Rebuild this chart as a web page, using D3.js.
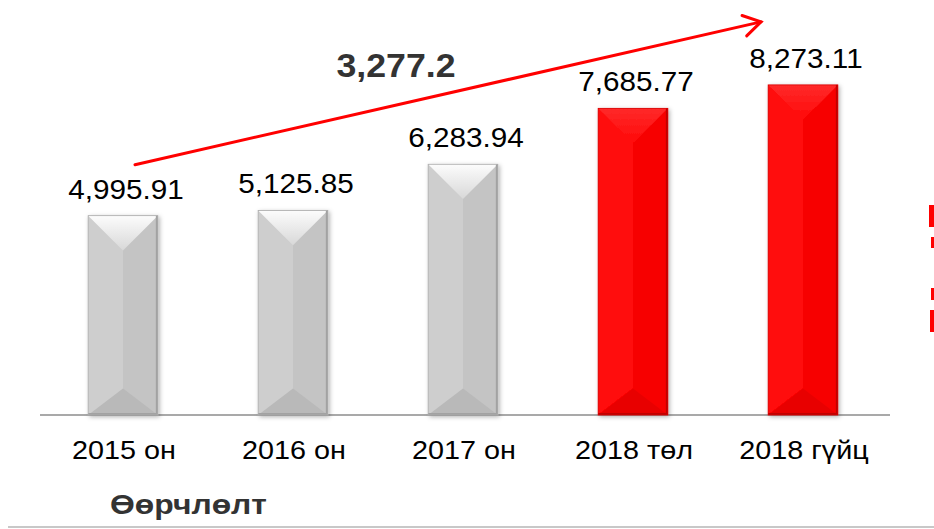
<!DOCTYPE html>
<html lang="mn">
<meta charset="utf-8">
<head>
  <title>Өөрчлөлт</title>
  <style>
  body { margin: 0; background: #fff; }
  svg { display: block; font-family: "Liberation Sans", Arial, sans-serif; }
  .value-label { font-size: 27px; fill: #000; }
  .cat-label { font-size: 25px; fill: #000; }
  .change-label { font-size: 34px; font-weight: bold; fill: #333; }
  .footer-label { font-size: 27px; font-weight: bold; fill: #333; }
  .baseline { stroke: #8c8c8c; stroke-width: 1.5px; }
  .arrow { fill: none; stroke: #ff0000; stroke-width: 3px; stroke-linecap: round; }
  </style>
</head>
<body>
<svg id="chart" width="934" height="529"></svg>
<script src="https://cdn.jsdelivr.net/npm/d3@7"></script>
<script>

// data
var categories = ["2015 он", "2016 он", "2017 он", "2018 төл", "2018 гүйц"];
var values = [4995.91, 5125.85, 6283.94, 7685.77, 8273.11];
var highlighted = [false, false, false, true, true];
var footerText = "Өөрчлөлт";

var svg = d3.select("svg#chart");

var xScale = d3.scaleBand()
    .domain(categories)
    .range([38, 888])
    .paddingInner(0.59)
    .paddingOuter(0.295);

var yScale = d3.scaleLinear()
    .domain([0, 10000])
    .range([415, 16]);

var fmt = d3.format(",.2f");
var bw = xScale.bandwidth();

var defs = svg.append("defs");

// soft shadow round each bar
var shadow = defs.append("filter").attr("id", "barShadow")
    .attr("x", "-20%").attr("y", "-10%").attr("width", "140%").attr("height", "120%");
shadow.append("feDropShadow")
    .attr("dx", 1.5).attr("dy", 1.5).attr("stdDeviation", 2)
    .attr("flood-color", "#000").attr("flood-opacity", 0.3);

function vGrad(id, c1, c2) {
  var g = defs.append("linearGradient").attr("id", id)
      .attr("x1", 0).attr("y1", 0).attr("x2", 0).attr("y2", 1);
  g.append("stop").attr("offset", "0%").attr("stop-color", c1);
  g.append("stop").attr("offset", "100%").attr("stop-color", c2);
}
vGrad("grayTop", "#fcfcfc", "#d8d8d8");
vGrad("redTop", "#ff2a2a", "#ff0808");

var palette = {
  gray: {left: "#cecece", right: "#c4c4c4", top: "url(#grayTop)", bottom: "#b9b9b9", edge: "#a2a2a2"},
  red:  {left: "#ff0707", right: "#f70000", top: "url(#redTop)", bottom: "#e80000", edge: "#c00000"}
};

// baseline
svg.append("line")
    .attr("class", "baseline")
    .attr("x1", 40).attr("x2", 890)
    .attr("y1", yScale(0)).attr("y2", yScale(0));

var bar = svg.selectAll(".bar")
  .data(values)
  .enter().append("g")
    .attr("class", "bar")
    .attr("filter", "url(#barShadow)");

function pts(arr) { return arr.map(function(p) { return p.join(","); }).join(" "); }

bar.each(function(v, i) {
  var c = highlighted[i] ? palette.red : palette.gray;
  var x0 = xScale(categories[i]), x1 = x0 + bw, cx = x0 + bw / 2;
  var y0 = yScale(v), y1 = yScale(0);
  var topD = bw / 2, botD = bw * 0.38;
  var g = d3.select(this);

  g.append("rect").attr("x", x0).attr("y", y0).attr("width", bw / 2).attr("height", y1 - y0).attr("fill", c.left);
  g.append("rect").attr("x", cx).attr("y", y0).attr("width", bw / 2).attr("height", y1 - y0).attr("fill", c.right);
  g.append("polygon").attr("points", pts([[x0, y0], [x1, y0], [cx, y0 + topD]])).attr("fill", c.top);
  g.append("polygon").attr("points", pts([[x0, y1], [x1, y1], [cx, y1 - botD]])).attr("fill", c.bottom);
  // dark rim on the right and bottom
  g.append("rect").attr("x", x1 - 2).attr("y", y0).attr("width", 2).attr("height", y1 - y0).attr("fill", c.edge);
  g.append("rect").attr("x", x0).attr("y", y1 - 2).attr("width", bw).attr("height", 2).attr("fill", c.edge);
  g.append("rect").attr("x", x0).attr("y", y0).attr("width", bw).attr("height", y1 - y0)
      .attr("fill", "none").attr("stroke", highlighted[i] ? "#d80000" : "#acacac").attr("stroke-width", 0.8);
});

// stretch text a bit wider, like the slide
function stretch(sel, k) {
  sel.each(function() {
    var len = this.getComputedTextLength();
    d3.select(this).attr("textLength", len * k).attr("lengthAdjust", "spacingAndGlyphs");
  });
}

svg.selectAll(".value-label")
  .data(values)
  .enter().append("text")
    .attr("class", "value-label")
    .attr("x", function(d, i) { return xScale(categories[i]) + bw / 2 + 3; })
    .attr("y", function(d) { return yScale(d) - 17; })
    .attr("text-anchor", "middle")
    .text(function(d) { return fmt(d); })
    .call(stretch, 1.1);

svg.selectAll(".cat-label")
  .data(categories)
  .enter().append("text")
    .attr("class", "cat-label")
    .attr("x", function(d) { return xScale(d) + bw / 2 + 1; })
    .attr("y", 459)
    .attr("text-anchor", "middle")
    .text(function(d) { return d; })
    .call(stretch, 1.15);

// change arrow, first bar to last
var first = values[0], last = values[values.length - 1];
var ax0 = xScale(categories[0]) + bw / 2 + 12, ay0 = yScale(first) - 51;
var ax1 = xScale(categories[categories.length - 1]) + bw / 2 - 42, ay1 = yScale(last) - 63;
var ang = Math.atan2(ay1 - ay0, ax1 - ax0);
var head = 20, spread = 0.55;

svg.append("line").attr("class", "arrow")
    .attr("x1", ax0).attr("y1", ay0).attr("x2", ax1).attr("y2", ay1);
svg.append("polyline").attr("class", "arrow")
    .attr("points", pts([
      [ax1 - head * Math.cos(ang - spread), ay1 - head * Math.sin(ang - spread)],
      [ax1, ay1],
      [ax1 - head * Math.cos(ang + spread), ay1 - head * Math.sin(ang + spread)]
    ]));

svg.append("text")
    .attr("class", "change-label")
    .attr("x", 396).attr("y", 77)
    .attr("text-anchor", "middle")
    .text(d3.format(",.1f")(last - first))
    .call(stretch, 1.05);

svg.append("text")
    .attr("class", "footer-label")
    .attr("x", 110).attr("y", 514)
    .text(footerText)
    .call(stretch, 1.18);

svg.append("line")
    .attr("x1", 8).attr("x2", 934).attr("y1", 527).attr("y2", 527)
    .attr("stroke", "#c8c8c8").attr("stroke-width", 2);

// clipped red shapes at right edge of the slide
var edgeBits = [[929, 205, 22], [931, 237, 11], [931, 288, 12], [930, 310, 22]];
svg.selectAll(".edge-bit")
  .data(edgeBits)
  .enter().append("rect")
    .attr("class", "edge-bit")
    .attr("x", function(d) { return d[0]; })
    .attr("y", function(d) { return d[1]; })
    .attr("width", function(d) { return 934 - d[0]; })
    .attr("height", function(d) { return d[2]; })
    .attr("fill", "#ff0000");

</script>
</body>
</html>
